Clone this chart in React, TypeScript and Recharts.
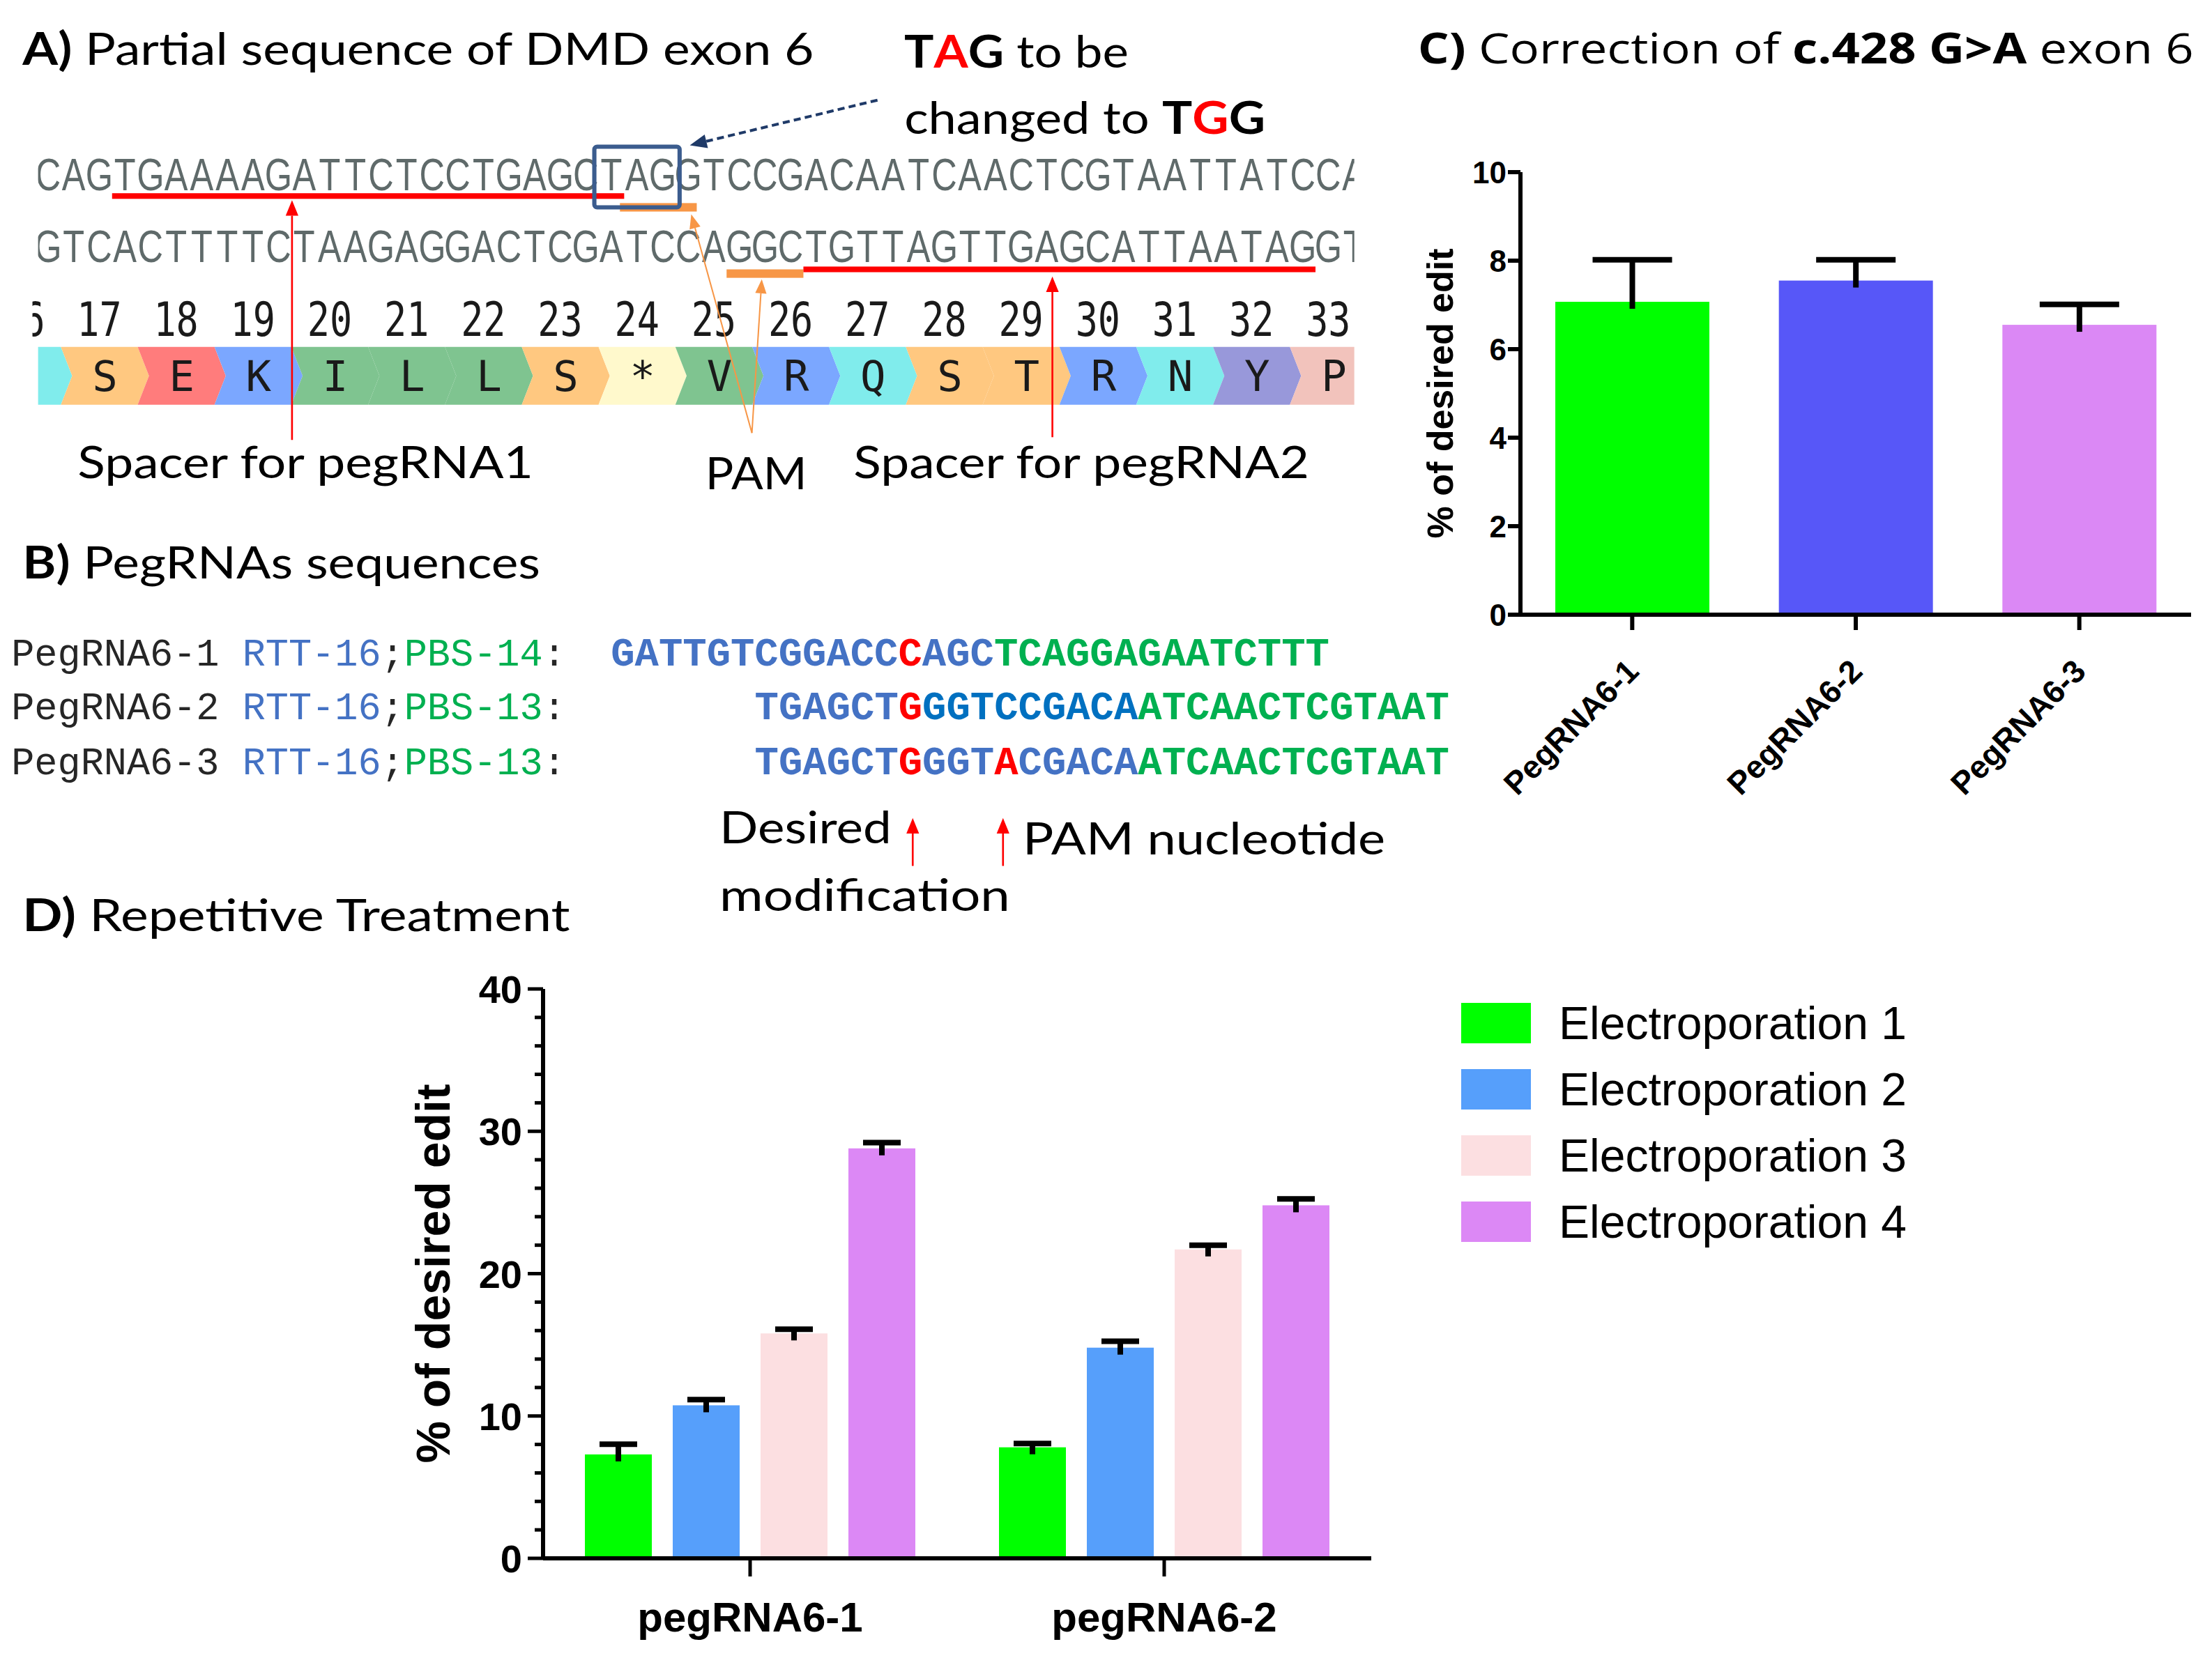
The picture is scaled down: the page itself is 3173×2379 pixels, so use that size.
import React from 'react';
import { BarChart, Bar, XAxis, YAxis, Cell, Legend } from 'recharts';

// ---- panel C: correction of c.428 G>A exon 6 ----
const cNames = ['PegRNA6-1', 'PegRNA6-2', 'PegRNA6-3'];
const cMeans = [7.07, 7.55, 6.55];
const cSd = [0.95, 0.47, 0.46];
const cColors = ['#00FF00', '#5757F8', '#DB88F5'];
const cTicks = [0, 2, 4, 6, 8, 10];

// ---- panel D: repetitive treatment ----
const dGroups = ['pegRNA6-1', 'pegRNA6-2'];
const dSeries = ['Electroporation 1', 'Electroporation 2', 'Electroporation 3', 'Electroporation 4'];
const dColors = ['#00FF00', '#569FFB', '#FCDFE1', '#DC88F5'];
const ep1 = [7.3, 7.8];
const ep2 = [10.75, 14.8];
const ep3 = [15.8, 21.7];
const ep4 = [28.8, 24.8];
const ep1Sd = [0.72, 0.26];
const ep2Sd = [0.4, 0.45];
const ep3Sd = [0.3, 0.3];
const ep4Sd = [0.4, 0.45];
const dTicks = [0, 2, 4, 6, 8, 10, 12, 14, 16, 18, 20, 22, 24, 26, 28, 30, 32, 34, 36, 38, 40];

// ---- panel A / B text ----
const SEQ_TOP = 'CAGTGAAAAGATTCTCCTGAGCTAGGTCCGACAATCAACTCGTAATTATCCA';
const SEQ_BOTTOM = 'GTCACTTTTCTAAGAGGACTCGATCCAGGCTGTTAGTTGAGCATTAATAGGT';
const codons = [16, 17, 18, 19, 20, 21, 22, 23, 24, 25, 26, 27, 28, 29, 30, 31, 32, 33];
const aminoAcids = ['', 'S', 'E', 'K', 'I', 'L', 'L', 'S', '*', 'V', 'R', 'Q', 'S', 'T', 'R', 'N', 'Y', 'P'];
const aaFills = [
  '#80ECEC', '#FFC880', '#FF7C7C', '#7BA7FF', '#7FC490', '#7FC490', '#7FC490', '#FFC880', '#FFF9CC',
  '#7FC490', '#7BA7FF', '#80ECEC', '#FFC880', '#FFC880', '#7BA7FF', '#80ECEC', '#9898DA', '#F2C3BC',
];

const ARIAL = "'Liberation Sans', Arial, sans-serif";
const CAL = "Lato, 'Open Sans', sans-serif";
const SEGOE = "'Open Sans', 'Noto Sans', sans-serif";
const MONO = "'Liberation Mono', 'DejaVu Sans Mono', monospace";
const SNAP = "'DejaVu Sans Mono', monospace";

const K = 3173 / 1568; // the diagram is laid out in the coordinates of the shrunk picture

const cData = cNames.map((name, i) => ({ name, value: cMeans[i], sd: cSd[i] }));
const dKeys = ['e1', 'e2', 'e3', 'e4'];
const dMeans = [ep1, ep2, ep3, ep4];
const dSds = [ep1Sd, ep2Sd, ep3Sd, ep4Sd];
const dData = dGroups.map((name, g) => {
  const row: any = { name };
  dKeys.forEach((k, s) => {
    row[k] = dMeans[s][g];
    row[k + 'sd'] = dSds[s][g];
  });
  return row;
});

// bar with an SD whisker on top (GraphPad style, only the upper part shows)
const barWithSd = (sdKey: string, cap: number, sw: number) => (props: any) => {
  const { x, y, width, height, fill, payload, value } = props;
  const v = Array.isArray(value) ? value[1] - value[0] : value;
  const ppu = v ? height / v : 0;
  const top = y - payload[sdKey] * ppu;
  const cx = x + width / 2;
  return (
    <g>
      <rect x={x} y={y} width={width} height={height} fill={fill} />
      <line x1={cx} x2={cx} y1={y + 10} y2={top} stroke="#000" strokeWidth={sw} />
      <line x1={cx - cap} x2={cx + cap} y1={top} y2={top} stroke="#000" strokeWidth={sw} />
    </g>
  );
};

const CXTick = (props: any) => {
  const { x, y, payload } = props;
  const tx = x + 12;
  const ty = y + 62;
  return (
    <text x={tx} y={ty} textAnchor="end" transform={`rotate(-45 ${tx} ${ty})`}
      fontFamily={ARIAL} fontSize={46} fontWeight={700} fill="#000">
      {payload.value}
    </text>
  );
};

const DYTick = (props: any) => {
  const { x, y, payload } = props;
  const ax = x + 30;
  const major = payload.value % 10 === 0;
  return (
    <g>
      <line x1={ax - (major ? 22 : 12)} x2={ax} y1={y} y2={y} stroke="#000" strokeWidth={5} />
      {major && (
        <text x={x} y={y} dy="0.36em" textAnchor="end" fontFamily={ARIAL} fontSize={56} fontWeight={700} fill="#000">
          {payload.value}
        </text>
      )}
    </g>
  );
};

const yLabel = (off: number, size: number, fx: number, fy: number) => (props: any) => {
  const vb = props.viewBox || {};
  const x = vb.x !== undefined ? vb.x + off : fx;
  const y = vb.y !== undefined ? vb.y + vb.height / 2 : fy;
  return (
    <text x={x} y={y} textAnchor="middle" transform={`rotate(-90 ${x} ${y})`}
      fontFamily={ARIAL} fontSize={size} fontWeight={700} fill="#000">
      % of desired edit
    </text>
  );
};

const renderLegend = (props: any) => {
  const items = props.payload && props.payload.length
    ? props.payload
    : dSeries.map((s, i) => ({ value: s, color: dColors[i] }));
  return (
    <div style={{ width: 720 }}>
      {items.map((it: any) => (
        <div key={it.value} style={{ display: 'flex', alignItems: 'center', height: 95 }}>
          <div style={{ width: 100, height: 58, background: it.color }} />
          <span style={{ marginLeft: 40, fontFamily: ARIAL, fontSize: 66, lineHeight: 1, color: '#000', whiteSpace: 'pre' }}>
            {it.value}
          </span>
        </div>
      ))}
    </div>
  );
};

function Arrow({ x1, y1, x2, y2, color, w = 1.3, head = 11, half = 4.5, dash }: any) {
  const len = Math.hypot(x2 - x1, y2 - y1);
  const ux = (x2 - x1) / len;
  const uy = (y2 - y1) / len;
  const bx = x2 - ux * head;
  const by = y2 - uy * head;
  return (
    <g>
      <line x1={x1} y1={y1} x2={bx} y2={by} stroke={color} strokeWidth={w} strokeDasharray={dash} />
      <polygon points={`${x2},${y2} ${bx - uy * half},${by + ux * half} ${bx + uy * half},${by - ux * half}`} fill={color} />
    </g>
  );
}

// letter grid of the sequence view
const P0 = 25;
const PITCH = 18.15;
const SX = 0.78;
const lx = (i: number) => P0 + PITCH * (i + 0.5);
const seqXs = (s: string) => s.split('').map((_, i) => (lx(i) / SX).toFixed(2)).join(' ');
const codonX = (k: number) => P0 + PITCH * (3 * (k - 17) + 2.5);

function Diagram() {
  const red = '#FF0000';
  const orange = '#F79646';
  const blue = '#4472C4';
  const green = '#00B050';
  const seqGrey = '#5F6A6A';
  const b = 287;
  const m = (246 + b) / 2;
  return (
    <svg width={3173} height={2379} style={{ position: 'absolute', left: 0, top: 0, pointerEvents: 'none' }}>
      <defs>
        <clipPath id="seqClip"><rect x={27} y={80} width={933} height={220} /></clipPath>
        <clipPath id="numClip"><rect x={23} y={195} width={942} height={48} /></clipPath>
      </defs>
      <g transform={`scale(${K})`}>
        {/* A */}
        <text x={16} y={46} fontFamily={CAL} fontSize={32} textLength={561} lengthAdjust="spacingAndGlyphs" fill="#000">
          <tspan fontWeight={700}>A)</tspan>{' Partial sequence of DMD exon 6'}
        </text>
        <text x={641} y={48} fontFamily={CAL} fontSize={32} textLength={159} lengthAdjust="spacingAndGlyphs" fill="#000">
          <tspan fontWeight={700}>T</tspan><tspan fontWeight={700} fill={red}>A</tspan><tspan fontWeight={700}>G</tspan>{' to be'}
        </text>
        <text x={641} y={95} fontFamily={CAL} fontSize={32} textLength={256} lengthAdjust="spacingAndGlyphs" fill="#000">
          {'changed to '}<tspan fontWeight={700}>T</tspan><tspan fontWeight={700} fill={red}>G</tspan><tspan fontWeight={700}>G</tspan>
        </text>

        <g clipPath="url(#seqClip)">
          <text transform={`scale(${SX} 1)`} x={seqXs(SEQ_TOP)} y={135} textAnchor="middle" fontFamily={ARIAL} fontSize={32} fill={seqGrey}>
            {SEQ_TOP}
          </text>
          <text transform={`scale(${SX} 1)`} x={seqXs(SEQ_BOTTOM)} y={186} textAnchor="middle" fontFamily={ARIAL} fontSize={32} fill={seqGrey}>
            {SEQ_BOTTOM}
          </text>
          {codons.map((k, i) => {
            const x0 = P0 + PITCH * (3 * (k - 17) + 1);
            const x1 = x0 + PITCH * 3;
            const n = 8;
            return (
              <polygon key={k} fill={aaFills[i]}
                points={`${x0},246 ${x1},246 ${x1 + n},${m} ${x1},${b} ${x0},${b} ${x0 + n},${m}`} />
            );
          })}
          {codons.map((k, i) => (
            <text key={k} x={codonX(k) + 4} y={277} textAnchor="middle" fontFamily={SNAP} fontSize={30} fill="#1A1A1A">
              {aminoAcids[i]}
            </text>
          ))}
        </g>
        <g clipPath="url(#numClip)">
          {codons.map((k) => (
            <text key={k} transform="scale(0.8 1)" x={codonX(k) / 0.8} y={238} textAnchor="middle" fontFamily={SNAP} fontSize={33} fill="#1A1A1A">
              {k}
            </text>
          ))}
        </g>

        {/* spacer / PAM marks */}
        <rect x={P0 + PITCH * 3} y={137} width={PITCH * 20} height={4} fill={red} />
        <rect x={P0 + PITCH * 23 - 3} y={144} width={PITCH * 3} height={6} fill={orange} />
        <rect x={P0 + PITCH * 22 - 3} y={104} width={PITCH * 3 + 6} height={43} fill="none" stroke="#3B5C8E" strokeWidth={3} rx={2} />
        <rect x={P0 + PITCH * 27} y={191} width={PITCH * 3} height={6} fill={orange} />
        <rect x={P0 + PITCH * 30} y={189} width={PITCH * 20} height={4} fill={red} />

        <Arrow x1={207} y1={312} x2={207} y2={142} color={red} />
        <Arrow x1={746} y1={310} x2={746} y2={196} color={red} />
        <Arrow x1={533} y1={307} x2={490} y2={152} color={orange} w={1} head={10} half={4} />
        <Arrow x1={533} y1={307} x2={540} y2={198} color={orange} w={1} head={10} half={4} />
        <Arrow x1={622} y1={71} x2={489} y2={103} color="#1F3A68" w={2} head={12} half={5} dash="5 3" />

        <text x={55} y={339} fontFamily={CAL} fontSize={32} textLength={323} lengthAdjust="spacingAndGlyphs" fill="#000">Spacer for pegRNA1</text>
        <text x={500} y={347} fontFamily={CAL} fontSize={32} textLength={72} lengthAdjust="spacingAndGlyphs" fill="#000">PAM</text>
        <text x={605} y={339} fontFamily={CAL} fontSize={32} textLength={323} lengthAdjust="spacingAndGlyphs" fill="#000">Spacer for pegRNA2</text>

        {/* B */}
        <text x={16} y={410} fontFamily={CAL} fontSize={32} textLength={367} lengthAdjust="spacingAndGlyphs" fill="#000">
          <tspan fontWeight={700}>B)</tspan>{' PegRNAs sequences'}
        </text>
        {[['1', '14', 472], ['2', '13', 510], ['3', '13', 549]].map(([n, pbs, y]) => (
          <text key={n as string} x={8} y={y as number} fontFamily={MONO} fontSize={27.3} fill="#262626" xmlSpace="preserve">
            {`PegRNA6-${n} `}<tspan fill={blue}>RTT-16</tspan>;<tspan fill={green}>{`PBS-${pbs}`}</tspan>:
          </text>
        ))}
        <text x={433} y={472} fontFamily={MONO} fontSize={28.3} fontWeight={700}>
          <tspan fill={blue}>GATTGTCGGACC</tspan><tspan fill={red}>C</tspan><tspan fill={blue}>AGC</tspan><tspan fill={green}>TCAGGAGAATCTTT</tspan>
        </text>
        <text x={535} y={510} fontFamily={MONO} fontSize={28.3} fontWeight={700}>
          <tspan fill={blue}>TGAGCT</tspan><tspan fill={red}>G</tspan><tspan fill="#0070C0">GGTCCGACA</tspan><tspan fill={green}>ATCAACTCGTAAT</tspan>
        </text>
        <text x={535} y={549} fontFamily={MONO} fontSize={28.3} fontWeight={700}>
          <tspan fill={blue}>TGAGCT</tspan><tspan fill={red}>G</tspan><tspan fill={blue}>GGT</tspan><tspan fill={red}>A</tspan><tspan fill={blue}>CGACA</tspan><tspan fill={green}>ATCAACTCGTAAT</tspan>
        </text>
        <text x={510} y={598} fontFamily={CAL} fontSize={32} textLength={122} lengthAdjust="spacingAndGlyphs" fill="#000">Desired</text>
        <text x={510} y={646} fontFamily={CAL} fontSize={32} textLength={206} lengthAdjust="spacingAndGlyphs" fill="#000">modification</text>
        <text x={725} y={606} fontFamily={CAL} fontSize={32} textLength={257} lengthAdjust="spacingAndGlyphs" fill="#000">PAM nucleotide</text>
        <Arrow x1={647} y1={614} x2={647} y2={580} color={red} head={11} half={4.5} />
        <Arrow x1={711} y1={614} x2={711} y2={580} color={red} head={11} half={4.5} />

        {/* C and D titles */}
        <text x={1005} y={45} fontFamily={SEGOE} fontSize={30} textLength={550} lengthAdjust="spacingAndGlyphs" fill="#000">
          <tspan fontWeight={700}>C)</tspan>{' Correction of '}<tspan fontWeight={700}>c.428 G&gt;A</tspan>{' exon 6'}
        </text>
        <text x={16} y={660} fontFamily={CAL} fontSize={32} textLength={388} lengthAdjust="spacingAndGlyphs" fill="#000">
          <tspan fontWeight={700}>D)</tspan>{' Repetitive Treatment'}
        </text>
      </g>
    </svg>
  );
}

export default function App() {
  const axis = { stroke: '#000', strokeWidth: 6 };
  return (
    <div style={{ position: 'absolute', left: 0, top: 0, width: 3173, height: 2379, background: '#fff' }}>
      <div style={{ position: 'absolute', left: 1980, top: 150 }}>
        <BarChart width={1193} height={1050} data={cData} margin={{ top: 97, right: 30, left: 81, bottom: 68 }} barSize={221}>
          <XAxis dataKey="name" height={250} interval={0} axisLine={axis} tickLine={axis} tickSize={22} tickMargin={0} tick={<CXTick />} />
          <YAxis type="number" domain={[0, 10]} ticks={cTicks} interval={0} width={120} axisLine={axis} tickLine={axis}
            tickSize={18} tickMargin={2} tick={{ fill: '#000', fontSize: 44, fontWeight: 700, fontFamily: ARIAL }}
            label={{ content: yLabel(23, 52, 104, 414) }} />
          <Bar dataKey="value" isAnimationActive={false} shape={barWithSd('sd', 57, 8)}>
            {cData.map((d, i) => <Cell key={d.name} fill={cColors[i]} />)}
          </Bar>
        </BarChart>
      </div>

      <div style={{ position: 'absolute', left: 0, top: 1380 }}>
        <BarChart width={3173} height={999} data={dData} margin={{ top: 39, right: 1206, left: 579, bottom: 13 }} barSize={96} barGap={30}>
          <XAxis dataKey="name" height={130} interval={0} axisLine={axis} tickLine={{ stroke: '#000', strokeWidth: 5 }}
            tickSize={26} tickMargin={36} tick={{ fill: '#000', fontSize: 60, fontWeight: 700, fontFamily: ARIAL }} />
          <YAxis type="number" domain={[0, 40]} ticks={dTicks} interval={0} width={200} axisLine={axis} tickLine={false}
            tickSize={20} tickMargin={10} tick={<DYTick />} label={{ content: yLabel(66, 68, 645, 447) }} />
          {dKeys.map((k, i) => (
            <Bar key={k} dataKey={k} name={dSeries[i]} fill={dColors[i]} isAnimationActive={false} shape={barWithSd(k + 'sd', 27, 8)} />
          ))}
          <Legend layout="vertical" align="right" verticalAlign="top" wrapperStyle={{ left: 2096, top: 40, width: 0 }} content={renderLegend} />
        </BarChart>
      </div>

      <Diagram />
    </div>
  );
}
